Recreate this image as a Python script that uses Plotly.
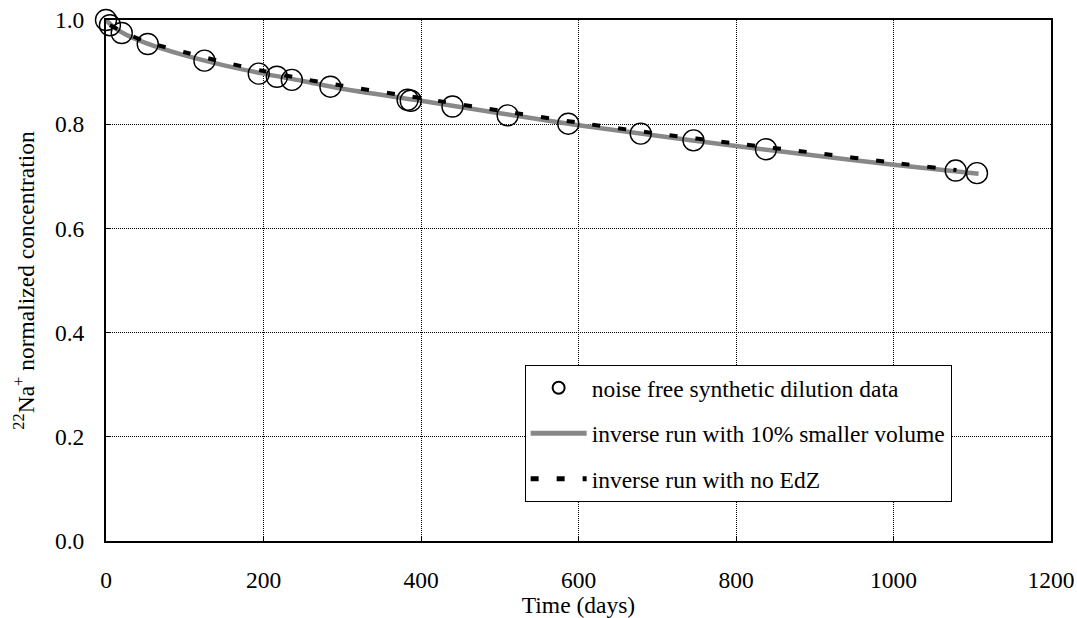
import plotly.graph_objects as go

# Data
data_t = [0, 5, 20, 53, 125, 194, 217, 236, 285, 383, 387, 440, 510, 587, 679, 746, 838, 1079, 1106]
data_c = [1.0, 0.990, 0.975, 0.954, 0.922, 0.897, 0.891, 0.885, 0.872, 0.847, 0.845, 0.834, 0.817, 0.801, 0.782, 0.769, 0.752, 0.711, 0.706]

gray_t = [0, 10, 25, 50, 100, 150, 200, 250, 300, 400, 500, 600, 700, 800, 900, 1000, 1108]
gray_c = [1.0, 0.986, 0.972, 0.956, 0.932, 0.913, 0.897, 0.883, 0.868, 0.845, 0.821, 0.798, 0.778, 0.758, 0.740, 0.722, 0.705]

dash_t = [5, 25, 50, 100, 150, 200, 250, 300, 400, 500, 600, 700, 800, 900, 1000, 1080]
dash_c = [0.990, 0.975, 0.959, 0.938, 0.919, 0.902, 0.887, 0.874, 0.850, 0.826, 0.803, 0.782, 0.763, 0.745, 0.726, 0.712]

x_ticks = [0, 200, 400, 600, 800, 1000, 1200]
y_ticks = [0.0, 0.2, 0.4, 0.6, 0.8, 1.0]

FONT = "Liberation Serif"
TXT = dict(family=FONT, size=23.5, color="black")

fig = go.Figure()
fig.add_trace(go.Scatter(
    x=gray_t, y=gray_c, mode="lines", name="inverse run with 10% smaller volume",
    line=dict(color="#888888", width=4.5, shape="spline", smoothing=0.8), legendgroup="b", legendrank=2,
    cliponaxis=False))
fig.add_trace(go.Scatter(
    x=dash_t, y=dash_c, mode="lines", name="inverse run with no EdZ",
    line=dict(color="black", width=4, dash="8px,18px", shape="spline", smoothing=0.8), legendgroup="c", legendrank=3,
    cliponaxis=False))
fig.add_trace(go.Scatter(
    x=data_t, y=data_c, mode="markers", name="noise free synthetic dilution data",
    marker=dict(symbol="circle-open", size=21, color="black", line=dict(width=1.4, color="black")),
    legendgroup="a", legendrank=1, cliponaxis=False))

axis_common = dict(
    showline=True, linecolor="black", linewidth=2, mirror=True,
    showgrid=True, gridcolor="black", gridwidth=1, griddash="1px,1px",
    ticks="inside", ticklen=4, tickcolor="black",
    tickfont=TXT,
    zeroline=False, automargin=False,
)

fig.update_xaxes(range=[0, 1200], tickvals=x_ticks, ticktext=[str(v) for v in x_ticks],
                 title=dict(text="Time (days)", font=TXT, standoff=8),
                 ticklabelstandoff=17,
                 **axis_common)
fig.update_yaxes(range=[0, 1.0], tickvals=y_ticks, ticktext=[f"{v:.1f}" for v in y_ticks],
                 title=dict(text="<sup>22</sup>Na<sup>+</sup> normalized concentration",
                            font=TXT, standoff=14),
                 ticklabelstandoff=15,
                 **axis_common)

fig.update_layout(
    width=1077, height=618,
    margin=dict(l=106, r=26, t=20, b=77),
    paper_bgcolor="white", plot_bgcolor="white",
    font=TXT,
    legend=dict(x=0.443, y=0.338, xanchor="left", yanchor="top",
                bgcolor="white", bordercolor="black", borderwidth=1,
                font=TXT,
                tracegroupgap=12, itemwidth=56, itemsizing="constant"),
    showlegend=True,
)

fig.write_html("out.html")
